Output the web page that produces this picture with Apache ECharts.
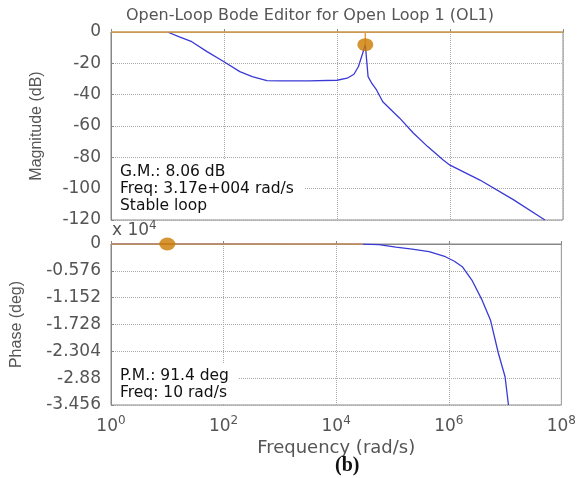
<!DOCTYPE html>
<html><head><meta charset="utf-8">
<script src="https://cdn.jsdelivr.net/npm/echarts@6/dist/echarts.min.js"></script>
<style>html,body{margin:0;padding:0;background:#fff}#c{width:579px;height:478px}</style>
</head><body><div id="c"></div>
<script>
// Frequency (rad/s) and magnitude (dB)
const magFreq = [10, 15.8, 26.9, 50.1, 100, 190.5, 316, 575, 1000, 3162, 10000, 15136, 19953, 23988, 28184, 31700, 35481, 41687, 50119, 64565, 128825, 223872, 398107, 758578, 1000000, 3388442, 13182567, 47863009];
const magDb = [0, -3, -6.2, -12.5, -19, -25.3, -28.5, -31, -31.2, -31.2, -30.8, -29.5, -27, -22, -14, -8.06, -28.5, -33, -37, -44.5, -55, -64.5, -73, -81.7, -85, -94.5, -107, -120];
// Frequency (rad/s) and phase (x 10^4 deg)
const phaseFreq = [1, 28840, 57544, 114815, 223872, 446684, 870964, 1258925, 1737801, 2570396, 3890451, 5495409, 7585776, 10000000, 11481536];
const phaseVal = [0, -0.002, -0.012, -0.065, -0.112, -0.165, -0.273, -0.37, -0.488, -0.774, -1.2, -1.63, -2.34, -2.85, -3.456];
// Margin markers
const gmFreq = 31700, gmDb = -8.06;
const pmFreq = 10, pmPhase = 0;
// Tick labels
const magTicks = [0, -20, -40, -60, -80, -100, -120];
const phaseTicks = [0, -0.576, -1.152, -1.728, -2.304, -2.88, -3.456];
const freqExpTicks = [0, 2, 4, 6, 8];

const lg = Math.log10;
const gray = '#555';
const orange = '#cc7a00';
const blue = '#3a3ad6';
const ff = 'DejaVu Sans';

const chart = echarts.init(document.getElementById('c'));
const xAxisBase = (idx, showLabel) => ({
  type: 'value', gridIndex: idx, min: freqExpTicks[0], max: freqExpTicks[freqExpTicks.length - 1], interval: 2,
  axisLine: {show: true, lineStyle: {color: '#888'}},
  axisTick: {show: true, inside: true, length: 3, lineStyle: {color: '#888'}},
  splitLine: {show: true, lineStyle: {color: '#aaa', type: [1, 1], width: 1}},
  axisLabel: showLabel ? {
    margin: 10,
    formatter: v => '{b|10}{s|' + v + '}',
    rich: {
      b: {fontSize: 17, color: gray, fontFamily: ff},
      s: {fontSize: 12, color: gray, fontFamily: ff, padding: [0, 0, 12, 0]}
    }
  } : {show: false},
  name: showLabel ? 'Frequency (rad/s)' : '',
  nameLocation: 'middle', nameGap: 34,
  nameTextStyle: {fontSize: 18, color: gray, fontFamily: ff}
});

chart.setOption({
  animation: false,
  backgroundColor: '#fff',
  title: {
    text: 'Open-Loop Bode Editor for Open Loop 1 (OL1)',
    left: 305, top: 3, textAlign: 'center',
    textStyle: {fontSize: 16, color: gray, fontWeight: 'normal', fontFamily: ff}
  },
  grid: [
    {left: 111, top: 32, width: 452, height: 188, show: true, borderColor: '#888', borderWidth: 1, backgroundColor: '#fff'},
    {left: 111, top: 244, width: 452, height: 161, show: true, borderColor: '#888', borderWidth: 1, backgroundColor: '#fff'}
  ],
  xAxis: [xAxisBase(0, false), xAxisBase(1, true)],
  yAxis: [
    {type: 'value', gridIndex: 0, min: magTicks[magTicks.length - 1], max: magTicks[0], interval: 20,
     axisLine: {show: true, lineStyle: {color: '#888'}},
     axisTick: {show: true, inside: true, length: 3, lineStyle: {color: '#888'}},
     splitLine: {show: true, lineStyle: {color: '#aaa', type: [1, 1]}},
     axisLabel: {fontSize: 17, color: gray, margin: 10, fontFamily: ff},
     name: 'Magnitude (dB)', nameLocation: 'middle', nameGap: 66,
     nameTextStyle: {fontSize: 16, color: gray, fontFamily: 'Liberation Sans'}},
    {type: 'value', gridIndex: 1, min: phaseTicks[phaseTicks.length - 1], max: phaseTicks[0], interval: 0.576,
     axisLine: {show: true, lineStyle: {color: '#888'}},
     axisTick: {show: true, inside: true, length: 3, lineStyle: {color: '#888'}},
     splitLine: {show: true, lineStyle: {color: '#aaa', type: [1, 1]}},
     axisLabel: {fontSize: 17, color: gray, margin: 10, fontFamily: ff,
       formatter: v => { const r = Math.round(v * 1000) / 1000; const i = phaseTicks.findIndex(t => Math.abs(t - r) < 1e-6); return i >= 0 ? String(phaseTicks[i]) : String(r); }},
     name: 'Phase (deg)', nameLocation: 'middle', nameGap: 86,
     nameTextStyle: {fontSize: 16, color: gray, fontFamily: 'Liberation Sans'}}
  ],
  series: [
    {type: 'line', xAxisIndex: 0, yAxisIndex: 0, symbol: 'none', z: 3,
     lineStyle: {color: blue, width: 1.3},
     data: magFreq.map((f, i) => [lg(f), magDb[i]])},
    {type: 'line', xAxisIndex: 0, yAxisIndex: 0, symbol: 'none', z: 4,
     lineStyle: {color: '#e0a040', width: 1.5},
     data: [[0, 0], [8, 0]]},
    {type: 'line', xAxisIndex: 0, yAxisIndex: 0, symbol: 'none', z: 4,
     lineStyle: {color: '#e0a040', width: 1.5},
     data: [[lg(gmFreq), gmDb], [lg(gmFreq), 0]]},
    {type: 'scatter', xAxisIndex: 0, yAxisIndex: 0, z: 5, symbol: 'circle', symbolSize: [16, 13],
     itemStyle: {color: orange}, data: [[lg(gmFreq), gmDb]]},
    {type: 'line', xAxisIndex: 1, yAxisIndex: 1, symbol: 'none', z: 3,
     lineStyle: {color: blue, width: 1.3},
     data: phaseFreq.map((f, i) => [lg(f), phaseVal[i]])},
    {type: 'line', xAxisIndex: 1, yAxisIndex: 1, symbol: 'none', z: 4,
     lineStyle: {color: '#e0a040', width: 1.5},
     data: [[0, 0], [lg(3e4), 0]]},
    {type: 'scatter', xAxisIndex: 1, yAxisIndex: 1, z: 5, symbol: 'circle', symbolSize: [16, 13],
     itemStyle: {color: orange}, data: [[lg(pmFreq), pmPhase]]}
  ],
  graphic: [
    {type: 'rect', left: 112, top: 160, shape: {width: 192, height: 59}, style: {fill: '#fff'}, z: 2},
    {type: 'text', left: 120, top: 163, z: 3,
     style: {text: 'G.M.: 8.06 dB\nFreq: 3.17e+004 rad/s\nStable loop', fill: '#111', fontSize: 15.5, lineHeight: 17, fontFamily: ff}},
    {type: 'rect', left: 112, top: 363, shape: {width: 127, height: 41}, style: {fill: '#fff'}, z: 2},
    {type: 'text', left: 120, top: 367, z: 3,
     style: {text: 'P.M.: 91.4 deg\nFreq: 10 rad/s', fill: '#111', fontSize: 15.5, lineHeight: 17.5, fontFamily: ff}},
    {type: 'text', left: 112, top: 220, z: 3,
     style: {rich: {a: {fontSize: 17, fill: gray, fontFamily: ff}, s: {fontSize: 12, fill: gray, fontFamily: ff, padding: [0, 0, 10, 0]}},
       text: '{a|x 10}{s|4}'}},
    {type: 'text', left: 335, top: 456, z: 3,
     style: {text: '(b)', fill: '#111', fontSize: 20, fontWeight: 'bold', fontFamily: 'Liberation Serif', textAlign: 'center'}}
  ]
});
</script></body></html>
